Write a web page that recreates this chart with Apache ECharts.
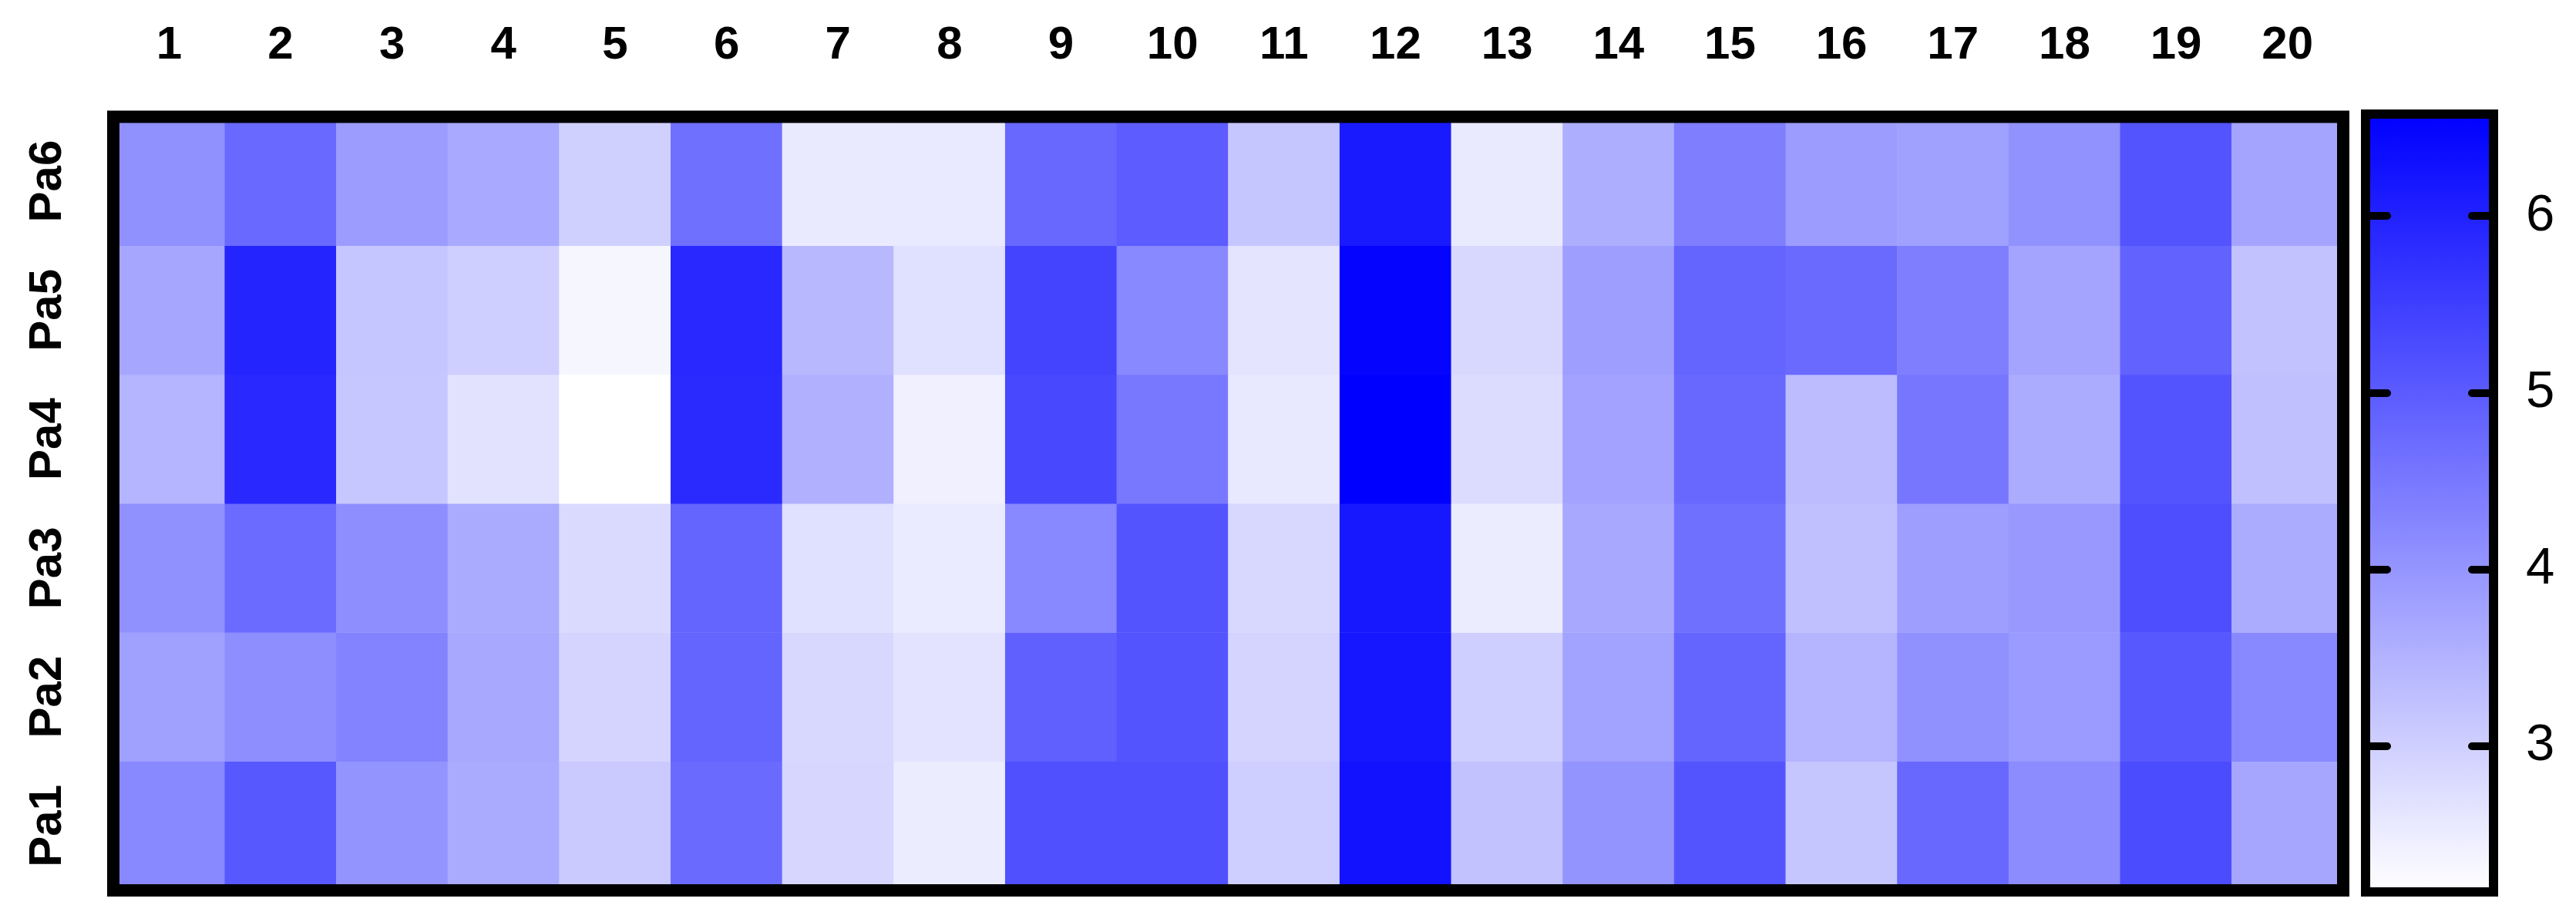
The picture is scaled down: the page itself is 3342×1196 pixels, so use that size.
<!DOCTYPE html>
<html>
<head>
<meta charset="utf-8">
<script src="https://cdn.jsdelivr.net/npm/echarts@6/dist/echarts.min.js"></script>
<style>
  html, body { margin: 0; padding: 0; background: #ffffff; }
  #chart { width: 3342px; height: 1196px; }
</style>
</head>
<body>
<div id="chart"></div>
<script>
// ---- data ----
const columns = ['1','2','3','4','5','6','7','8','9','10','11','12','13','14','15','16','17','18','19','20'];
const rows = ['Pa1','Pa2','Pa3','Pa4','Pa5','Pa6'];

const pa1 = [4.23,5.05,4.03,3.65,3.10,4.74,2.90,2.52,5.19,5.19,3.02,6.24,3.24,4.03,5.12,3.17,4.78,4.16,5.25,3.72];
const pa2 = [3.82,4.13,4.32,3.68,2.93,4.84,2.87,2.68,4.91,5.12,2.93,6.17,3.02,3.79,4.84,3.48,4.09,3.92,5.05,4.23];
const pa3 = [4.09,4.72,4.13,3.65,2.83,4.84,2.73,2.54,4.23,5.12,2.87,6.14,2.52,3.68,4.64,3.27,3.85,3.96,5.22,3.62];
const pa4 = [3.48,5.87,3.16,2.69,2.20,5.83,3.55,2.46,5.32,4.50,2.59,6.55,2.80,3.77,4.78,3.34,4.54,3.62,5.12,3.27];
const pa5 = [3.72,5.94,3.19,3.02,2.35,5.87,3.41,2.73,5.39,4.23,2.66,6.48,2.87,3.85,4.84,4.74,4.40,3.75,4.88,3.24];
const pa6 = [4.09,4.76,3.89,3.67,3.00,4.64,2.56,2.57,4.78,4.98,3.17,6.11,2.56,3.58,4.40,3.89,3.82,4.06,5.12,3.75];

const colorMin = 2.2;
const colorMax = 6.55;
const colorTicks = [3, 4, 5, 6];

// ---- build ----
const rowValues = [pa1, pa2, pa3, pa4, pa5, pa6];
const heatData = [];
rowValues.forEach((vals, r) => vals.forEach((v, c) => heatData.push([c, r, v])));

const FONT = "'Liberation Sans', Arial, Helvetica, sans-serif";
const LOW = '#ffffff', HIGH = '#0000ff';

// colour bar layout (grid rect includes half of the border on each side)
const cbTop = 148, cbHeight = 1009, cbBorder = 12;
const innerH = cbHeight - cbBorder;
const ext = (cbBorder / 2) * (colorMax - colorMin) / innerH;
const cbMin = colorMin - ext, cbMax = colorMax + ext;
const span = cbMax - cbMin;
const gradient = {
  type: 'linear', x: 0, y: 0, x2: 0, y2: 1,
  colorStops: [
    { offset: 0, color: HIGH },
    { offset: (cbMax - colorMax) / span, color: HIGH },
    { offset: (cbMax - colorMin) / span, color: LOW },
    { offset: 1, color: LOW }
  ]
};

const chart = echarts.init(document.getElementById('chart'), null, { renderer: 'canvas' });
chart.setOption({
  backgroundColor: '#ffffff',
  animation: false,
  grid: [
    {
      left: 147, top: 151.5, width: 2893, height: 1003.5,
      show: true, backgroundColor: 'transparent',
      borderColor: '#000000', borderWidth: 16, z: 10
    },
    {
      left: 3069, top: cbTop, width: 166, height: cbHeight,
      show: true, backgroundColor: gradient,
      borderColor: '#000000', borderWidth: cbBorder, z: 1
    }
  ],
  xAxis: [
    {
      type: 'category', gridIndex: 0, position: 'top', data: columns,
      axisLine: { show: false }, axisTick: { show: false }, splitLine: { show: false },
      axisLabel: {
        interval: 0, margin: 62, color: '#000000',
        fontFamily: FONT, fontWeight: 'bold', fontSize: 60
      }
    },
    { type: 'value', gridIndex: 1, show: false, min: 0, max: 1 }
  ],
  yAxis: [
    {
      type: 'category', gridIndex: 0, data: rows,
      axisLine: { show: false }, axisTick: { show: false }, splitLine: { show: false },
      axisLabel: {
        interval: 0, rotate: 90, margin: 55, color: '#000000',
        fontFamily: FONT, fontWeight: 'bold', fontSize: 60
      }
    },
    {
      type: 'value', gridIndex: 1, position: 'left', min: cbMin, max: cbMax, z: 5,
      axisLine: { show: false }, splitLine: { show: false },
      axisTick: { show: true, inside: true, length: 28, customValues: colorTicks,
        lineStyle: { color: '#000000', width: 10, cap: 'round' } },
      axisLabel: { show: false }
    },
    {
      type: 'value', gridIndex: 1, position: 'right', min: cbMin, max: cbMax, z: 5,
      axisLine: { show: false }, splitLine: { show: false },
      axisTick: { show: true, inside: true, length: 28, customValues: colorTicks,
        lineStyle: { color: '#000000', width: 10, cap: 'round' } },
      axisLabel: { show: true, customValues: colorTicks, margin: 42, color: '#000000',
        fontFamily: FONT, fontSize: 67 }
    }
  ],
  visualMap: {
    show: false, type: 'continuous', seriesIndex: 0, dimension: 2,
    min: colorMin, max: colorMax,
    inRange: { color: [LOW, HIGH] }
  },
  series: [
    {
      type: 'heatmap', xAxisIndex: 0, yAxisIndex: 0, data: heatData, z: 2,
      itemStyle: { borderWidth: 0 },
      emphasis: { disabled: true }, label: { show: false }
    }
  ]
});
</script>
</body>
</html>
